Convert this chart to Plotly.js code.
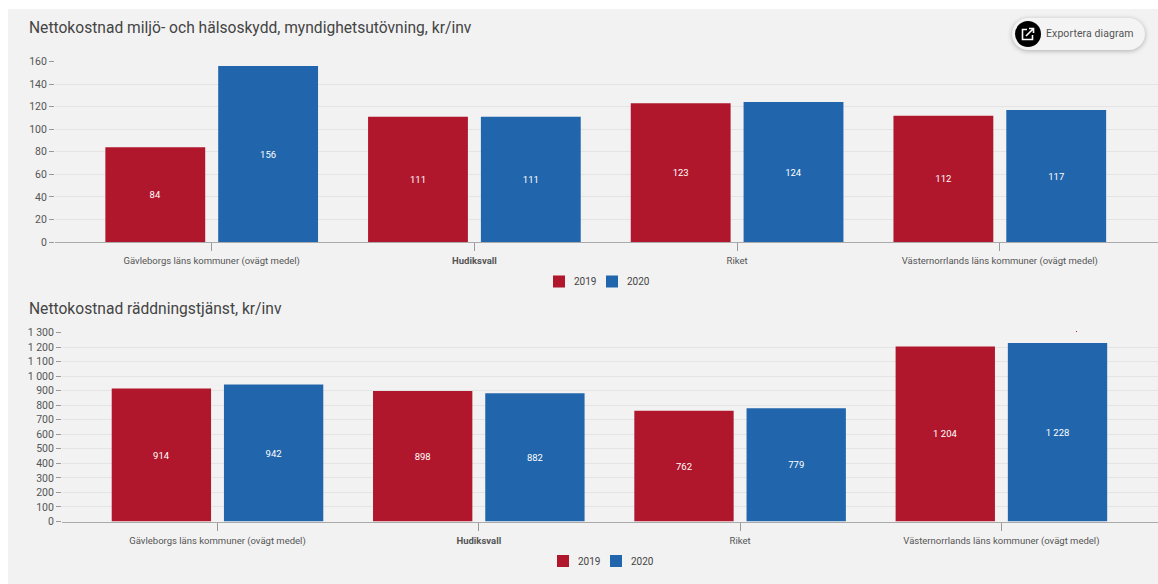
<!DOCTYPE html>
<html><head><meta charset="utf-8">
<script src="https://cdn.plot.ly/plotly-3.0.1.min.js"></script>
<style>
html,body{margin:0;padding:0;background:#fff;width:1158px;height:584px;overflow:hidden}
#chart{position:absolute;left:8px;top:9px;width:1150px;height:575px}
#btn{position:absolute;left:1012px;top:18px;width:133px;height:32px;border-radius:16px;background:#f4f4f4;box-shadow:0 1px 5px rgba(0,0,0,.28);font:10.5px Roboto,sans-serif;color:#555;line-height:32px;letter-spacing:.1px}
#btn span{position:absolute;left:34px;white-space:nowrap}
#btn i{position:absolute;left:3px;top:3px;width:26px;height:26px;border-radius:13px;background:#000;display:block}
#btn svg{position:absolute;left:6px;top:6px}
#dot{position:absolute;left:1075.5px;top:330.5px;width:1.5px;height:1.5px;background:#b1172c}
</style></head><body>
<div id="chart"></div>
<div id="btn"><i><svg width="14" height="14" viewBox="0 0 14 14" fill="none" stroke="#fff" stroke-width="1.6"><path d="M6 2.5H1.5V12.5H11.5V8"/><path d="M5 9L12 2M8 1.5H12.5V6"/></svg></i><span>Exportera diagram</span></div>
<div id="dot"></div>
<script>
const categories=["Gävleborgs läns kommuner (ovägt medel)","<b>Hudiksvall</b>","Riket","Västernorrlands läns kommuner (ovägt medel)"];
const seriesNames=["2019","2020"];
const miljo2019=[84,111,123,112];
const miljo2020=[156,111,124,117];
const radd2019=[914,898,762,1204];
const radd2020=[942,882,779,1228];
const colors=["#b1172c","#2166ac"];
const W=1150,H=575,ox=8,oy=9;
const dx=(a,b)=>[(a-ox)/W,(b-ox)/W];
const dy=(top,bot)=>[1-(bot-oy)/H,1-(top-oy)/H];
const bar=(y,i,xa,ya,leg)=>({type:"bar",x:categories,y:y,name:seriesNames[i],xaxis:xa,yaxis:ya,legend:leg,
  marker:{color:colors[i]},texttemplate:"%{y:,d}",textposition:"inside",insidetextanchor:"middle",
  textangle:0,textfont:{color:"#fff",size:9.5,family:"Roboto"},hoverinfo:"x+y"});
const data=[bar(miljo2019,0,"x","y","legend"),bar(miljo2020,1,"x","y","legend"),
  bar(radd2019,0,"x2","y2","legend2"),bar(radd2020,1,"x2","y2","legend2")];
const xax=(dom,anchor,c0,sp)=>({domain:dom,anchor:anchor,type:"category",categoryorder:"array",categoryarray:categories,
  range:[(dom[0]*W+ox-c0)/sp,(dom[1]*W+ox-c0)/sp],showline:true,linecolor:"#aaa",linewidth:1,ticks:"outside",ticklen:8,tickcolor:"#999",tickwidth:1,ticklabelstandoff:2,
  showgrid:false,zeroline:false,tickfont:{family:"Roboto",size:9.5,color:"#555"},automargin:false});
const yax=(dom,anchor,max,dt)=>({domain:dom,anchor:anchor,range:[0,max],dtick:dt,tick0:0,showgrid:true,gridcolor:"#e4e4e4",gridwidth:1,
  zeroline:false,showline:false,ticks:"outside",ticklen:5,tickcolor:"#999",tickwidth:1,tickformat:",d",
  tickfont:{family:"Roboto",size:10.5,color:"#555"},automargin:false});
const leg=(cx,cy)=>({orientation:"h",x:(cx-ox)/W,y:1-(cy-oy)/H,xanchor:"center",yanchor:"middle",bgcolor:"rgba(0,0,0,0)",
  font:{family:"Roboto",size:10,color:"#444"},itemclick:false,itemdoubleclick:false,entrywidth:8,entrywidthmode:"pixels"});
const title=(t,py)=>({text:t,xref:"paper",yref:"paper",x:(27-ox)/W,y:1-(py-oy)/H,xanchor:"left",yanchor:"middle",showarrow:false,
  font:{family:"Roboto",size:15.6,color:"#444"}});
const layout={width:W,height:H,margin:{l:0,r:0,t:0,b:0},paper_bgcolor:"#f2f2f2",plot_bgcolor:"rgba(0,0,0,0)",
  barmode:"group",bargap:0.141,bargroupgap:0.115,separators:", ",showlegend:true,
  xaxis:xax(dx(55,1158),"y",211.7,262.7),yaxis:yax(dy(61.5,242),"x",160,20),
  xaxis2:xax(dx(62,1158),"y2",217.5,261.3),yaxis2:yax(dy(332.5,521.5),"x2",1300,100),
  legend:leg(592,281.5),legend2:leg(596,561),
  annotations:[title("Nettokostnad miljö- och hälsoskydd, myndighetsutövning, kr/inv",28),title("Nettokostnad räddningstjänst, kr/inv",309)]};
Plotly.newPlot("chart",data,layout,{displayModeBar:false}).then(()=>{
  document.querySelectorAll('#chart .infolayer [class^="legend"]').forEach(g=>{
    g.removeAttribute("clip-path");g.style.clipPath="none";
    g.querySelectorAll("text").forEach(t=>t.setAttribute("x",parseFloat(t.getAttribute("x"))-5));
    g.querySelectorAll("[clip-path]").forEach(e=>{e.removeAttribute("clip-path");e.style.clipPath="none";});
  });
});
</script></body></html>
